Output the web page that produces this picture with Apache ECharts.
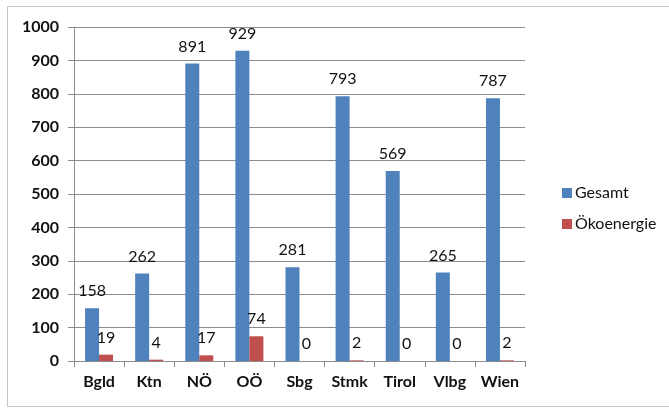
<!DOCTYPE html>
<html>
<head>
<meta charset="utf-8">
<script src="https://cdn.jsdelivr.net/npm/echarts@6/dist/echarts.min.js"></script>
<style>
  html, body { margin: 0; padding: 0; background: #ffffff; }
  #chart { width: 669px; height: 408px; }
</style>
</head>
<body>
<div id="chart"></div>
<script>
// Regions (Bundesländer)
const categories = ['Bgld', 'Ktn', 'NÖ', 'OÖ', 'Sbg', 'Stmk', 'Tirol', 'Vlbg', 'Wien'];
// Total count per region
const gesamt = [158, 262, 891, 929, 281, 793, 569, 265, 787];
// Eco-energy count per region
const oekoenergie = [19, 4, 17, 74, 0, 2, 0, 0, 2];
const seriesNames = ['Gesamt', 'Ökoenergie'];

const FONT = 'Lato, "Open Sans", sans-serif';
const TEXT = '#111111';

const chart = echarts.init(document.getElementById('chart'), null, { renderer: 'canvas' });

const valueLabel = {
  show: true,
  position: 'top',
  distance: 9,
  color: TEXT,
  fontFamily: FONT,
  fontSize: 16
};

chart.setOption({
  animation: false,
  backgroundColor: '#ffffff',
  graphic: [{
    type: 'rect',
    shape: { x: 7.5, y: 6.5, width: 680, height: 400 },
    style: { fill: 'none', stroke: '#c4c4c4', lineWidth: 1 },
    silent: true,
    z: -1
  }],
  grid: { left: 74, right: 144, top: 27, bottom: 47, containLabel: false },
  legend: {
    orient: 'vertical',
    left: 557,
    top: 180,
    itemWidth: 10,
    itemHeight: 10,
    itemGap: 15,
    icon: 'rect',
    data: seriesNames,
    textStyle: { color: TEXT, fontFamily: FONT, fontSize: 16, padding: [0, 0, 0, -2] }
  },
  xAxis: {
    type: 'category',
    data: categories,
    axisLine: { show: true, lineStyle: { color: '#8c8c8c', width: 1 } },
    axisTick: { show: true, length: 6, alignWithLabel: false, lineStyle: { color: '#8c8c8c' } },
    axisLabel: { color: TEXT, fontFamily: FONT, fontSize: 16, fontWeight: 'bold', margin: 13 }
  },
  yAxis: {
    type: 'value',
    min: 0,
    max: 1000,
    interval: 100,
    axisLine: { show: true, lineStyle: { color: '#8c8c8c', width: 1 } },
    axisTick: { show: true, length: 6, lineStyle: { color: '#8c8c8c' } },
    axisLabel: {
      color: TEXT, fontFamily: FONT, fontSize: 16, fontWeight: 'bold', margin: 15,
      formatter: (v) => String(v)
    },
    splitLine: { show: true, lineStyle: { color: '#8c8c8c', width: 1 } }
  },
  series: [
    {
      name: seriesNames[0],
      type: 'bar',
      data: gesamt,
      barWidth: 14,
      barGap: '0%',
      itemStyle: { color: '#4f81bd' },
      label: valueLabel
    },
    {
      name: seriesNames[1],
      type: 'bar',
      data: oekoenergie,
      barWidth: 14,
      barGap: '0%',
      itemStyle: { color: '#c0504d' },
      label: valueLabel
    }
  ]
});
</script>
</body>
</html>
